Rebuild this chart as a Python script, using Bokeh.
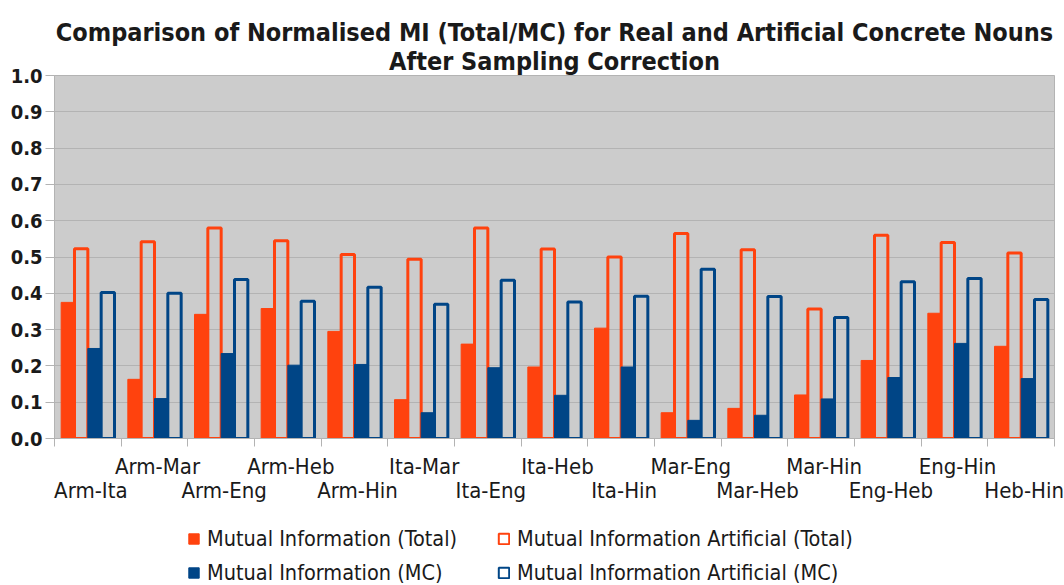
from bokeh.plotting import figure
from bokeh.layouts import column
from bokeh.models import (Range1d, FixedTicker, Legend, LegendItem, Title,
                          LinearAxis, CustomJSTickFormatter)
from bokeh.embed import file_html
from bokeh.resources import INLINE
import numpy as np

categories = ["Arm-Ita", "Arm-Mar", "Arm-Eng", "Arm-Heb", "Arm-Hin",
              "Ita-Mar", "Ita-Eng", "Ita-Heb", "Ita-Hin", "Mar-Eng",
              "Mar-Heb", "Mar-Hin", "Eng-Heb", "Eng-Hin", "Heb-Hin"]
mi_total = [0.375, 0.163, 0.342, 0.358, 0.295, 0.107, 0.260, 0.197, 0.304,
            0.071, 0.083, 0.120, 0.215, 0.345, 0.254]
mi_art_total = [0.523, 0.542, 0.580, 0.545, 0.507, 0.494, 0.580, 0.522, 0.500,
                0.565, 0.520, 0.357, 0.560, 0.540, 0.511]
mi_mc = [0.248, 0.110, 0.234, 0.202, 0.204, 0.071, 0.195, 0.119, 0.197,
         0.050, 0.064, 0.109, 0.168, 0.262, 0.165]
mi_art_mc = [0.402, 0.400, 0.438, 0.378, 0.417, 0.370, 0.436, 0.376, 0.392,
             0.466, 0.391, 0.333, 0.432, 0.441, 0.383]
series_names = ["Mutual Information (Total)", "Mutual Information Artificial (Total)",
                "Mutual Information (MC)", "Mutual Information Artificial (MC)"]
title_lines = ["Comparison of Normalised MI (Total/MC) for Real and Artificial Concrete Nouns",
               "After Sampling Correction"]
y_ticks = [round(0.1 * i, 1) for i in range(11)]

ORANGE = "#ff420e"
BLUE = "#004586"
BG = "#cccccc"
GRID = "#b3b3b3"
TXT = "#1a1a1a"
FONT = "DejaVu Sans Condensed"

n = len(categories)
TOP_H = 505
BORDER_L, BORDER_R = 54, 10
p = figure(width=1064, height=TOP_H, output_backend="svg", toolbar_location=None,
           x_range=Range1d(0, n), y_range=Range1d(0, 1.0), title=None,
           min_border_left=BORDER_L, min_border_right=BORDER_R, min_border_top=75,
           min_border_bottom=TOP_H - 438)
p.background_fill_color = BG
p.border_fill_color = "white"
p.outline_line_color = GRID
p.outline_line_width = 1

x = np.arange(n) + 0.5
w = 0.2
styles = [dict(fill_color=ORANGE, line_color=ORANGE, line_width=1),
          dict(fill_color=None, line_color=ORANGE, line_width=3),
          dict(fill_color=BLUE, line_color=BLUE, line_width=1),
          dict(fill_color=None, line_color=BLUE, line_width=3)]
values = [mi_total, mi_art_total, mi_mc, mi_art_mc]
offsets = [-0.3, -0.1, 0.1, 0.3]
for vals, off, st in zip(values, offsets, styles):
    p.vbar(x=x + off, top=vals, width=w, **st)

p.xgrid.visible = False
p.ygrid.grid_line_color = GRID
p.ygrid.ticker = FixedTicker(ticks=y_ticks)

# main x axis: tick marks at category boundaries, no labels
xa = p.xaxis[0]
xa.ticker = FixedTicker(ticks=list(range(n + 1)))
xa.formatter = CustomJSTickFormatter(code="return '';")
xa.axis_line_color = GRID
xa.major_tick_line_color = GRID
xa.major_tick_out = 8
xa.major_tick_in = 0
xa.minor_tick_line_color = None
xa.major_label_standoff = 0
xa.major_label_text_font_size = "1px"

# category labels in two staggered rows (two extra axes without lines)
LABEL_SHIFT = 0.045
def label_axis(idx, standoff):
    pos = [float(x[i]) + LABEL_SHIFT for i in idx]
    return LinearAxis(ticker=FixedTicker(ticks=pos),
                      formatter=CustomJSTickFormatter(
                          args=dict(names=[categories[i] for i in idx], pos=pos),
                          code="const k = pos.findIndex(v => Math.abs(v - tick) < 1e-6); return k >= 0 ? names[k] : '';"),
                      axis_line_color=None, major_tick_line_color=None, minor_tick_line_color=None,
                      major_tick_out=0, major_tick_in=0, major_label_standoff=standoff,
                      major_label_text_font=FONT, major_label_text_font_size="22px",
                      major_label_text_color=TXT)

p.add_layout(label_axis(list(range(1, n, 2)), 7), "below")
p.add_layout(label_axis(list(range(0, n, 2)), -4), "below")

ya = p.yaxis[0]
ya.ticker = FixedTicker(ticks=y_ticks)
ya.formatter = CustomJSTickFormatter(code="return tick.toFixed(1);")
ya.axis_line_color = GRID
ya.major_tick_line_color = GRID
ya.major_tick_out = 9
ya.major_tick_in = 0
ya.minor_tick_line_color = None
ya.major_label_text_font = FONT
ya.major_label_text_font_style = "bold"
ya.major_label_text_font_size = "20px"
ya.major_label_text_color = TXT
ya.major_label_standoff = 3

# two-line title (closest line added first)
p.add_layout(Title(text=title_lines[1], align="center", text_font=FONT, text_font_style="bold",
                   text_font_size="25px", text_color=TXT, standoff=-1, offset=0), "above")
p.add_layout(Title(text=title_lines[0], align="center", text_font=FONT, text_font_style="bold",
                   text_font_size="25px", text_color=TXT, standoff=-3, offset=0), "above")

# legend in a small companion figure below the chart (same side borders as the chart)
q = figure(width=1064, height=585 - TOP_H, output_backend="svg", toolbar_location=None,
           x_axis_location=None, y_axis_location=None, title=None,
           min_border_left=BORDER_L, min_border_right=BORDER_R, min_border_top=0, min_border_bottom=0,
           x_range=Range1d(0, 1), y_range=Range1d(0, 1))
q.outline_line_color = None
q.background_fill_color = "white"
q.border_fill_color = "white"
q.grid.visible = False
leg_styles = [dict(s, line_width=(2 if s["fill_color"] is None else 1)) for s in styles]
# swatch-only renderers, hidden (only their legend swatches are shown)
dummies = [q.vbar(x=[0.5], top=[0.5], width=0.1, visible=False, **st) for st in leg_styles]
legend = Legend(items=[LegendItem(label=series_names[0], renderers=[dummies[0]]),
                       LegendItem(label=series_names[2], renderers=[dummies[2]]),
                       LegendItem(label=series_names[1], renderers=[dummies[1]]),
                       LegendItem(label=series_names[3], renderers=[dummies[3]])],
                orientation="vertical", ncols=2, location=(187 - BORDER_L, 0),
                background_fill_alpha=0, border_line_color=None, padding=0, margin=0,
                spacing=9, glyph_width=13, glyph_height=13, label_height=24,
                label_width=281, label_text_font=FONT, label_text_font_size="21.5px",
                label_text_color=TXT, label_standoff=7,
                inactive_fill_alpha=0, click_policy="none")
q.add_layout(legend, "center")

layout = column(p, q, spacing=0)
open("out.html", "w").write(file_html(layout, INLINE))
